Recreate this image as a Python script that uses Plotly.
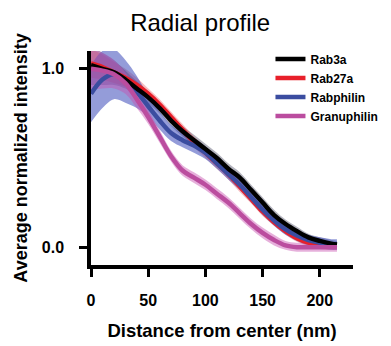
import plotly.graph_objects as go

distance_nm = [0, 10, 20, 30, 40, 50, 60, 70, 80, 90, 100, 110, 120, 130, 140, 150, 160, 170, 180, 190, 200, 210, 215]

rab3a = [1.02, 1.00, 0.98, 0.94, 0.89, 0.84, 0.78, 0.71, 0.65, 0.60, 0.55, 0.50, 0.44, 0.39, 0.32, 0.25, 0.18, 0.13, 0.09, 0.055, 0.035, 0.02, 0.015]
rab3a_err = [0.11, 0.09, 0.07, 0.05, 0.04, 0.035, 0.03, 0.03, 0.03, 0.03, 0.03, 0.03, 0.03, 0.03, 0.03, 0.03, 0.03, 0.025, 0.025, 0.02, 0.02, 0.02, 0.02]

rab27a = [1.03, 1.01, 0.98, 0.95, 0.91, 0.86, 0.80, 0.73, 0.66, 0.59, 0.53, 0.47, 0.41, 0.34, 0.27, 0.20, 0.14, 0.09, 0.05, 0.025, 0.01, 0.005, 0.005]
rab27a_err = [0.08, 0.07, 0.06, 0.05, 0.04, 0.03, 0.03, 0.03, 0.03, 0.03, 0.03, 0.03, 0.03, 0.03, 0.025, 0.025, 0.02, 0.02, 0.02, 0.02, 0.02, 0.02, 0.02]

rabphilin = [0.86, 0.94, 0.97, 0.93, 0.87, 0.79, 0.71, 0.64, 0.60, 0.57, 0.53, 0.47, 0.41, 0.35, 0.28, 0.21, 0.15, 0.10, 0.065, 0.04, 0.025, 0.015, 0.015]
rabphilin_err = [0.16, 0.16, 0.14, 0.12, 0.09, 0.06, 0.05, 0.045, 0.04, 0.04, 0.035, 0.03, 0.03, 0.03, 0.03, 0.03, 0.03, 0.03, 0.03, 0.03, 0.03, 0.03, 0.03]

granuphilin = [1.00, 0.99, 0.97, 0.92, 0.83, 0.73, 0.62, 0.51, 0.43, 0.39, 0.35, 0.30, 0.25, 0.19, 0.13, 0.08, 0.04, 0.01, 0.0, 0.0, 0.0, 0.0, 0.0]
granuphilin_err = [0.12, 0.10, 0.08, 0.06, 0.05, 0.04, 0.035, 0.03, 0.03, 0.03, 0.03, 0.03, 0.03, 0.03, 0.03, 0.03, 0.03, 0.025, 0.025, 0.025, 0.025, 0.025, 0.025]

series = [
    ("Rab3a", rab3a, rab3a_err, "#000000", "rgba(40,40,70,0.35)"),
    ("Rab27a", rab27a, rab27a_err, "#e8202a", "rgba(230,40,50,0.30)"),
    ("Rabphilin", rabphilin, rabphilin_err, "#3b4da0", "rgba(60,75,185,0.55)"),
    ("Granuphilin", granuphilin, granuphilin_err, "#bb4d9f", "rgba(200,80,175,0.45)"),
]

fig = go.Figure()

# bands
for name, y, err, lc, fc in series:
    upper = [a + b for a, b in zip(y, err)]
    lower = [a - b for a, b in zip(y, err)]
    fig.add_trace(go.Scatter(x=distance_nm, y=upper, mode="lines", line=dict(width=0, shape="spline"),
                             showlegend=False, hoverinfo="skip"))
    fig.add_trace(go.Scatter(x=distance_nm, y=lower, mode="lines", line=dict(width=0, shape="spline"),
                             fill="tonexty", fillcolor=fc, showlegend=False, hoverinfo="skip"))

draw_order = ["Rab27a", "Rabphilin", "Rab3a", "Granuphilin"]
ranks = {"Rab3a": 1, "Rab27a": 2, "Rabphilin": 3, "Granuphilin": 4}
lookup = {s[0]: s for s in series}
for nm in draw_order:
    name, y, err, lc, fc = lookup[nm]
    fig.add_trace(go.Scatter(x=distance_nm, y=y, mode="lines", name=name,
                             line=dict(color=lc, width=4.5, shape="spline"),
                             legendrank=ranks[nm]))

font_b = "Liberation Sans, Arial, sans-serif"

fig.update_layout(
    width=391, height=346,
    margin=dict(l=91, r=38, t=51, b=81, autoexpand=False),
    paper_bgcolor="white", plot_bgcolor="white",
    title=dict(text="Radial profile", x=0.512, xref="container", xanchor="center",
               y=0.935, yref="container", yanchor="middle",
               font=dict(family=font_b, size=24, color="black")),
    legend=dict(x=0.685, y=1.03, xanchor="left", yanchor="top", bgcolor="rgba(0,0,0,0)",
                font=dict(family=font_b, size=12, color="black", weight="bold"),
                itemwidth=30, tracegroupgap=0, traceorder="normal"),
    showlegend=True,
    font=dict(family=font_b, color="black"),
)

fig.update_xaxes(range=[0, 229], tickvals=[0, 50, 100, 150, 200], showgrid=False, zeroline=False,
                 showline=True, linecolor="black", linewidth=3.5,
                 ticks="outside", ticklen=8, tickwidth=3, tickcolor="black",
                 ticklabelstandoff=10,
                 tickfont=dict(family=font_b, size=16, color="black", weight="bold"),
                 title=dict(text="Distance from center (nm)", standoff=17,
                            font=dict(family=font_b, size=18.5, color="black", weight="bold")))
fig.update_yaxes(range=[-0.1, 1.1], tickvals=[0, 1], ticktext=["0.0", "1.0"], showgrid=False, zeroline=False,
                 showline=True, linecolor="black", linewidth=3.5,
                 ticks="outside", ticklen=8, tickwidth=3, tickcolor="black",
                 ticklabelstandoff=12,
                 tickfont=dict(family=font_b, size=16, color="black", weight="bold"),
                 title=dict(text="Average normalized intensity", standoff=10,
                            font=dict(family=font_b, size=18, color="black", weight="bold")))

fig.write_html("out.html")
